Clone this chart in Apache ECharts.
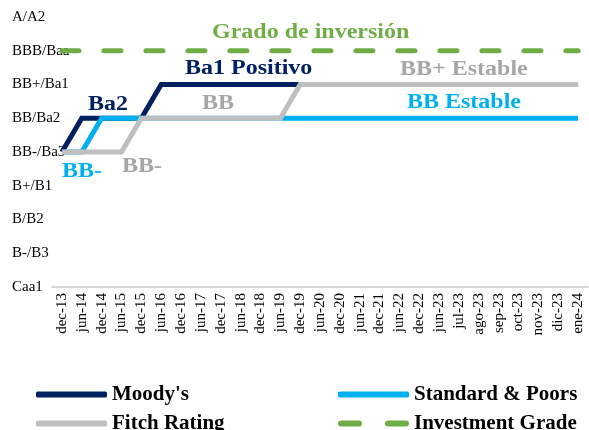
<!DOCTYPE html>
<html>
<head>
<meta charset="utf-8">
<script src="https://cdn.jsdelivr.net/npm/echarts@6/dist/echarts.min.js"></script>
<style>
  html, body { margin: 0; padding: 0; background: #fff; }
  #chart { width: 589px; height: 430px; }
</style>
</head>
<body>
<div id="chart"></div>
<script>
// escala de calificaciones (de abajo hacia arriba)
const ratings = ["Caa1", "B-/B3", "B/B2", "B+/B1", "BB-/Ba3", "BB/Ba2", "BB+/Ba1", "BBB/Baa", "A/A2"];

const fechas = ["dec-13", "jun-14", "dec-14", "jun-15", "dec-15", "jun-16", "dec-16", "jun-17", "dec-17",
  "jun-18", "dec-18", "jun-19", "dec-19", "jun-20", "dec-20", "jun-21", "dec-21", "jun-22", "dec-22",
  "jun-23", "jul-23", "ago-23", "sep-23", "oct-23", "nov-23", "dic-23", "ene-24"];

const moodys = ["BB-/Ba3", "BB/Ba2", "BB/Ba2", "BB/Ba2", "BB/Ba2", "BB+/Ba1", "BB+/Ba1", "BB+/Ba1", "BB+/Ba1",
  "BB+/Ba1", "BB+/Ba1", "BB+/Ba1", "BB+/Ba1", "BB+/Ba1", "BB+/Ba1", "BB+/Ba1", "BB+/Ba1", "BB+/Ba1", "BB+/Ba1",
  "BB+/Ba1", "BB+/Ba1", "BB+/Ba1", "BB+/Ba1", "BB+/Ba1", "BB+/Ba1", "BB+/Ba1", "BB+/Ba1"];

const sp = ["BB-/Ba3", "BB-/Ba3", "BB/Ba2", "BB/Ba2", "BB/Ba2", "BB/Ba2", "BB/Ba2", "BB/Ba2", "BB/Ba2",
  "BB/Ba2", "BB/Ba2", "BB/Ba2", "BB/Ba2", "BB/Ba2", "BB/Ba2", "BB/Ba2", "BB/Ba2", "BB/Ba2", "BB/Ba2",
  "BB/Ba2", "BB/Ba2", "BB/Ba2", "BB/Ba2", "BB/Ba2", "BB/Ba2", "BB/Ba2", "BB/Ba2"];

const fitch = ["BB-/Ba3", "BB-/Ba3", "BB-/Ba3", "BB-/Ba3", "BB/Ba2", "BB/Ba2", "BB/Ba2", "BB/Ba2", "BB/Ba2",
  "BB/Ba2", "BB/Ba2", "BB/Ba2", "BB+/Ba1", "BB+/Ba1", "BB+/Ba1", "BB+/Ba1", "BB+/Ba1", "BB+/Ba1", "BB+/Ba1",
  "BB+/Ba1", "BB+/Ba1", "BB+/Ba1", "BB+/Ba1", "BB+/Ba1", "BB+/Ba1", "BB+/Ba1", "BB+/Ba1"];

const gradoInversion = fechas.map(() => "BBB/Baa");

const idx = arr => arr.map(r => ratings.indexOf(r));

const serif = "'Liberation Serif', 'Times New Roman', serif";
const NAVY = "#002060", CYAN = "#00B0F0", GRAY = "#BFBFBF", GREEN = "#70AD47", TXTGRAY = "#A6A6A6";

function lineSerie(name, data, color, dashed) {
  return {
    name, type: "line", data: idx(data), symbol: "none",
    lineStyle: { color, width: 5, type: dashed ? [17, 25] : "solid", cap: dashed ? "round" : "butt", join: "miter" },
    itemStyle: { color },
    animation: false
  };
}

// textos sobre el gráfico (estirados en horizontal como en el original)
function nota(text, x, y, color) {
  return {
    type: "text", x, y, scaleX: 1.2,
    style: { text, fill: color, font: `bold 20px ${serif}`, textAlign: "left", textVerticalAlign: "middle" }
  };
}

const DASH_ICON = "path://M3,0H21A3,3,0,0,1,21,6H3A3,3,0,0,1,3,0Z" +
  "M50,0H68A3,3,0,0,1,68,6H50A3,3,0,0,1,50,0Z";

function leyenda(name, left, top, icon) {
  return {
    left, top, padding: 0, orient: "horizontal", itemWidth: 71, itemHeight: 6, icon,
    data: [name],
    textStyle: { fontFamily: serif, fontSize: 21, fontWeight: "bold", color: "#000" }
  };
}

const chart = echarts.init(document.getElementById("chart"));
chart.setOption({
  animation: false,
  grid: { left: 52, right: 1, top: 17, bottom: 143, containLabel: false },
  xAxis: {
    type: "category", data: fechas, boundaryGap: true,
    axisLine: { lineStyle: { color: "#D9D9D9", width: 2 } },
    axisTick: { show: false },
    axisLabel: { rotate: 90, interval: 0, margin: 6, color: "#000", fontFamily: serif, fontSize: 15 }
  },
  yAxis: {
    type: "category", data: ratings, boundaryGap: false,
    axisLine: { show: false }, axisTick: { show: false }, splitLine: { show: false },
    axisLabel: { align: "left", margin: 40, color: "#000", fontFamily: serif, fontSize: 15 }
  },
  legend: [
    leyenda("Moody's", 36, 384, "roundRect"),
    leyenda("Standard & Poors", 338, 384, "roundRect"),
    leyenda("Fitch Rating", 36, 413, "roundRect"),
    leyenda("Investment Grade", 338, 413, DASH_ICON)
  ],
  series: [
    lineSerie("Investment Grade", gradoInversion, GREEN, true),
    lineSerie("Moody's", moodys, NAVY),
    lineSerie("Standard & Poors", sp, CYAN),
    lineSerie("Fitch Rating", fitch, GRAY)
  ],
  graphic: [
    nota("Grado de inversión", 212, 33, GREEN),
    nota("Ba1 Positivo", 185, 69, NAVY),
    nota("Ba2", 88, 105, NAVY),
    nota("BB", 202, 104, TXTGRAY),
    nota("BB+ Estable", 400, 70, TXTGRAY),
    nota("BB Estable", 407, 103, CYAN),
    nota("BB-", 62, 172, CYAN),
    nota("BB-", 122, 167, TXTGRAY)
  ]
});
</script>
</body>
</html>
